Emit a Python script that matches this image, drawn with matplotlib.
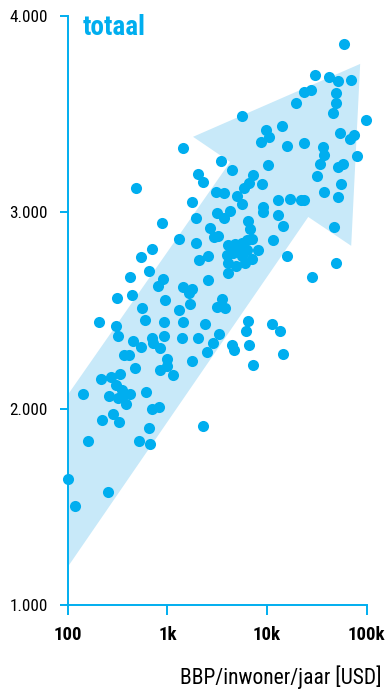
import matplotlib
matplotlib.use("Agg")
import matplotlib.pyplot as plt
import numpy as np

# GDP per inhabitant per year (USD) and daily food supply (kcal) per country
bbp = [
    59400, 30400, 42000, 51700, 69800, 23600, 27700, 49400, 49400, 46100,
    19600, 5620, 98900, 14200, 9800, 10500, 8730, 15900, 23600, 54200,
    75000, 68200, 36600, 37500, 80300, 1440, 3460, 4460, 10260, 2030,
    2280, 7250, 6610, 5890, 8930, 3080, 3710, 5010, 34100, 51700,
    58100, 31800, 55500, 37500, 51700, 1770, 12900, 17100, 22000, 23600,
    485, 5620, 3150, 4260, 3710, 9140, 9140, 12900, 14500, 6460,
    6770, 11500, 1940, 885, 2680, 2940, 3230, 1310, 1940, 702,
    544, 2560, 2080, 47200, 15900, 49400, 28400,
    4070, 4780, 5620, 6310, 7100, 8150, 3970, 4570, 5370, 6310,
    7100, 4070, 4890, 6030, 5620, 4070,
    655, 422, 905, 807, 1440, 1770, 1650, 313, 442, 948,
    1690, 1310, 557, 2560, 3540, 3150, 3800, 206, 305, 320,
    597, 927, 1440, 2390, 453, 544, 702, 718, 845, 927,
    1410, 2030, 2880, 3300, 2500, 367, 412, 993, 1770, 474,
    845, 993, 1140, 216, 272, 335, 305, 143, 260, 351,
    359, 422, 320, 385, 611, 702, 826, 285, 221, 327,
    655, 2280, 160, 520, 670, 100, 254, 118,
    6460, 6170, 11200, 13500, 4460, 4670, 6610, 14500, 7250,
]
kcal = [
    3858, 3700, 3690, 3670, 3675, 3614, 3624, 3609, 3558, 3507,
    3558, 3492, 3471, 3441, 3420, 3385, 3359, 3339, 3354, 3405,
    3395, 3374, 3334, 3293, 3288, 3329, 3262, 3217, 3242, 3196,
    3155, 3191, 3150, 3125, 3145, 3105, 3100, 3084, 3247, 3232,
    3247, 3186, 3145, 3105, 3079, 3054, 3064, 3069, 3064, 3064,
    3125, 3043, 2998, 3008, 2972, 3028, 3003, 2987, 2931, 2957,
    2916, 2860, 2972, 2947, 2921, 2875, 2880, 2865, 2845, 2814,
    2774, 2779, 2758, 2926, 2779, 2743, 2672,
    2835, 2840, 2845, 2860, 2865, 2809, 2784, 2794, 2799, 2809,
    2763, 2743, 2728, 2743, 2779, 2692,
    2702, 2672, 2662, 2626, 2621, 2611, 2590, 2565, 2580, 2555,
    2534, 2504, 2514, 2656, 2560, 2519, 2514, 2443, 2422, 2371,
    2453, 2443, 2443, 2432, 2346, 2315, 2361, 2336, 2310, 2371,
    2361, 2361, 2336, 2381, 2290, 2275, 2275, 2254, 2244, 2208,
    2198, 2219, 2173, 2152, 2163, 2178, 2122, 2076, 2066, 2096,
    2071, 2076, 2056, 2025, 2086, 2000, 2010, 1974, 1944, 1933,
    1903, 1913, 1837, 1837, 1821, 1643, 1577, 1506,
    2448, 2397, 2432, 2397, 2325, 2300, 2325, 2280, 2224,
]

# trend arrow outline (GDP, kcal)
pijl_bbp = [100, 25900, 69900, 86000, 1810, 4260, 100]
pijl_kcal = [1195, 2977, 2830, 3756, 3385, 3257, 2071]

x_ticks = [100, 1000, 10000, 100000]
x_labels = ["100", "1k", "10k", "100k"]
y_ticks = [1000, 2000, 3000, 4000]
y_labels = ["1.000", "2.000", "3.000", "4.000"]

BLUE = "#00aeef"
LIGHT = "#c8e9f9"

plt.rcParams["font.family"] = ["Roboto Condensed", "DejaVu Sans"]

fig = plt.figure(figsize=(3.88, 6.93), dpi=100)
ax = fig.add_axes([67.7 / 388, (693 - 605.3) / 693, 299 / 388, 589.3 / 693])
ax.set_xscale("log")
ax.set_xlim(100, 100000)
ax.set_ylim(1000, 4000)

ax.fill(pijl_bbp, pijl_kcal, color=LIGHT, lw=0, zorder=1)
ax.scatter(bbp, kcal, s=64, color=BLUE, lw=0, zorder=4, clip_on=False)

for side in ("top", "right"):
    ax.spines[side].set_visible(False)
for side in ("left", "bottom"):
    ax.spines[side].set_color(BLUE)
    ax.spines[side].set_linewidth(1.4)

ax.set_xticks(x_ticks)
ax.set_xticklabels(x_labels, fontsize=13.5, fontweight=800)
ax.xaxis.set_minor_locator(matplotlib.ticker.NullLocator())
ax.set_yticks(y_ticks)
ax.set_yticklabels(y_labels, fontsize=12.3)
ax.tick_params(axis="x", direction="out", length=7.2, width=1.4, color=BLUE, pad=8.0)
ax.tick_params(axis="y", direction="out", length=5.8, width=1.4, color=BLUE, pad=8.6)

fig.text(83 / 388, 1 - 35 / 693, "totaal", color=BLUE, fontsize=19.5,
         fontweight="bold", ha="left", va="baseline")
fig.text(382 / 388, 1 - 684 / 693, "BBP/inwoner/jaar [USD]", fontsize=15.5,
         ha="right", va="baseline")

fig.savefig("out.png", dpi=100)
